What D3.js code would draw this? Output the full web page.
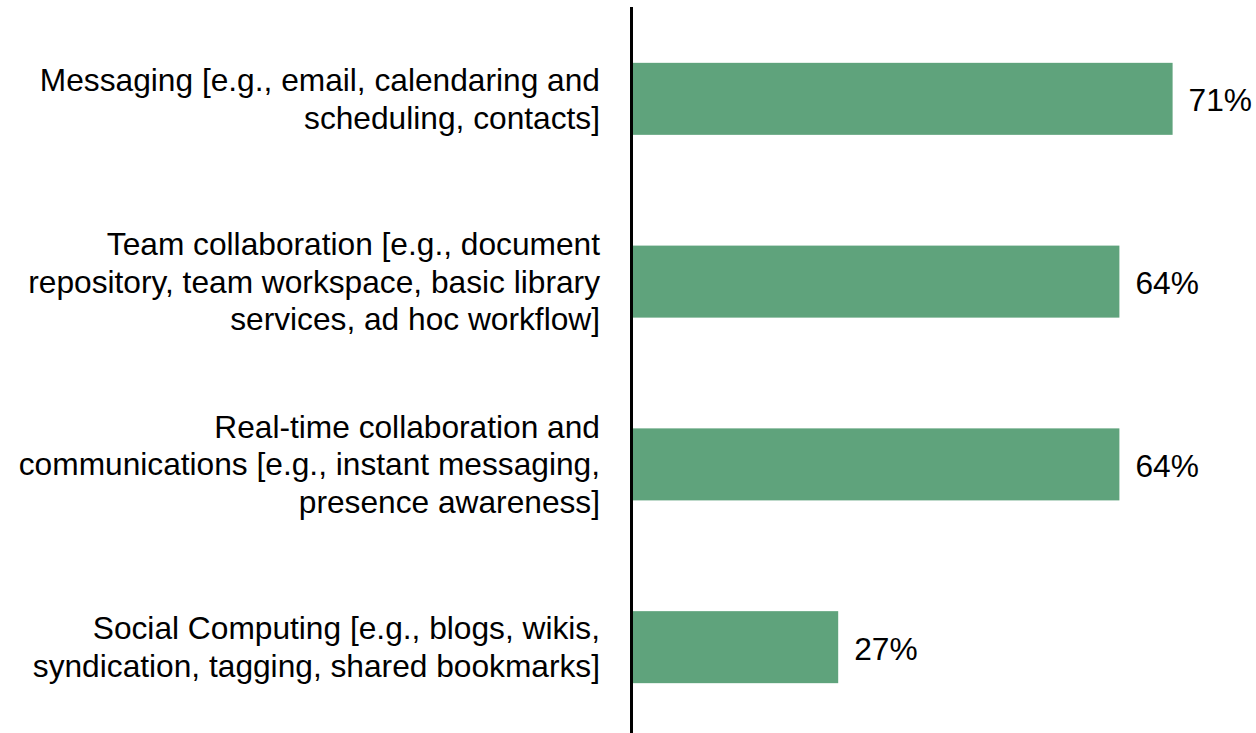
<!DOCTYPE html>
<html>
<head>
<meta charset="utf-8">
<script src="https://cdn.jsdelivr.net/npm/d3@7"></script>
<style>
  body { margin: 0; background: #fff; }
  svg { display: block; }
</style>
</head>
<body>
<div id="vis"></div>
<script>
// chart data
const categories = [
  "Messaging [e.g., email, calendaring and scheduling, contacts]",
  "Team collaboration [e.g., document repository, team workspace, basic library services, ad hoc workflow]",
  "Real-time collaboration and communications [e.g., instant messaging, presence awareness]",
  "Social Computing [e.g., blogs, wikis, syndication, tagging, shared bookmarks]"
];
const labelLines = [
  ["Messaging [e.g., email, calendaring and", "scheduling, contacts]"],
  ["Team collaboration [e.g., document", "repository, team workspace, basic library", "services, ad hoc workflow]"],
  ["Real-time collaboration and", "communications [e.g., instant messaging,", "presence awareness]"],
  ["Social Computing [e.g., blogs, wikis,", "syndication, tagging, shared bookmarks]"]
];
const values = [71, 64, 64, 27];

const width = 1256
const height = 733
const fontSize = 31.7
const lineH = 37.8

const svg = d3.select("#vis")
  .append("svg")
  .attr("width", width)
  .attr("height", height)
  .style("font-family", "'Liberation Sans', Arial, sans-serif");

const x = d3.scaleLinear()
  .domain([0, 100])
  .range([633, 633 + 760]);

const y = d3.scaleBand()
  .domain(categories)
  .range([8, 738])
  .paddingInner(0.606)
  .paddingOuter(0.3);

// bars
svg.selectAll("rect.bar")
  .data(categories)
  .join("rect")
    .attr("class", "bar")
    .attr("x", x(0))
    .attr("y", d => y(d))
    .attr("width", (d, i) => x(values[i]) - x(0))
    .attr("height", y.bandwidth())
    .attr("fill", "#5fa37c");

// value labels
svg.selectAll("text.value")
  .data(categories)
  .join("text")
    .attr("class", "value")
    .attr("x", (d, i) => x(values[i]) + 16)
    .attr("y", d => y(d) + y.bandwidth() / 2 + 12.5)
    .style("font-size", fontSize + "px")
    .attr("fill", "#000")
    .text((d, i) => values[i] + "%");

// category labels, right aligned
const labels = svg.selectAll("text.cat")
  .data(categories)
  .join("text")
    .attr("class", "cat")
    .attr("text-anchor", "end")
    .style("font-size", fontSize + "px")
    .attr("fill", "#000");

labels.each(function(d, i) {
  const lines = labelLines[i];
  const c = y(d) + y.bandwidth() / 2;
  d3.select(this).selectAll("tspan")
    .data(lines)
    .join("tspan")
      .attr("x", 600)
      .attr("y", (l, j) => c + (j - (lines.length - 1) / 2) * lineH + 11)
      .text(l => l);
});

// vertical axis line
svg.append("line")
  .attr("x1", 631.5)
  .attr("x2", 631.5)
  .attr("y1", 7)
  .attr("y2", height)
  .attr("stroke", "#000")
  .attr("stroke-width", 3);
</script>
</body>
</html>
